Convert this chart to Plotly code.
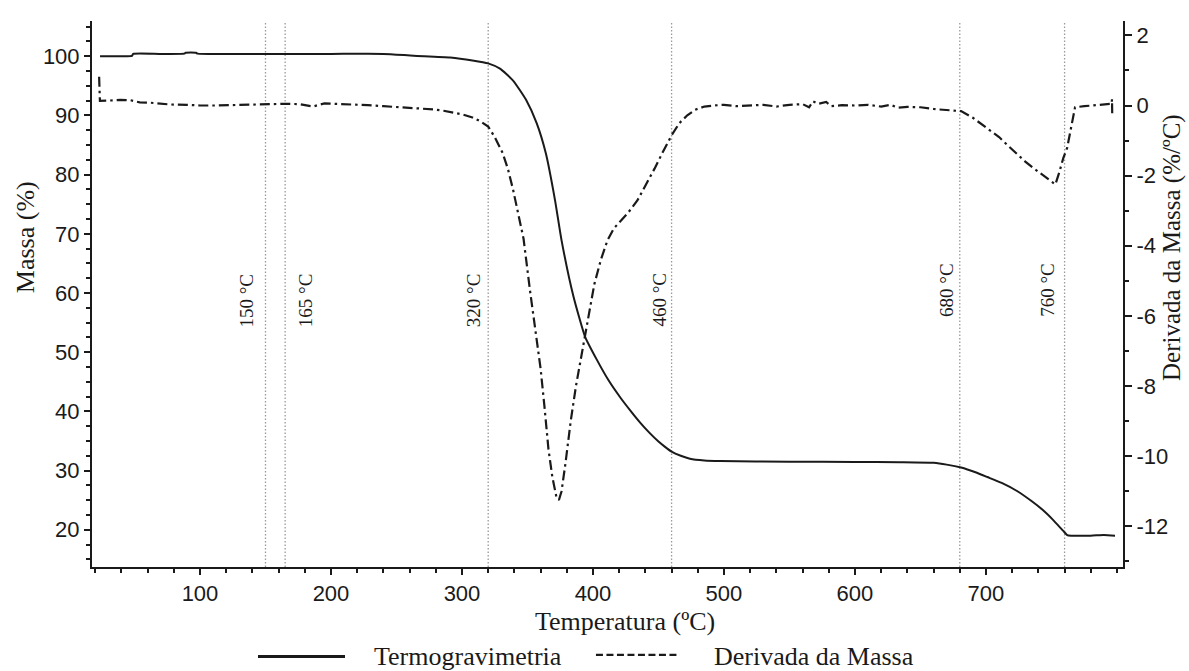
import plotly.graph_objects as go

# Curva termogravimétrica (TG): temperatura (ºC) e massa residual (%)
tg_temp = [23.7, 35, 48, 49, 70, 88, 89, 97, 98, 150, 200, 240, 263, 291, 308,
           320, 329, 339, 349, 357, 364, 371, 376, 385, 394, 403, 412, 421, 429,
           436, 443, 450, 455, 460, 467, 474, 485, 497, 550, 600, 634, 660, 670,
           681, 692, 701, 712, 724, 735, 743, 751, 759, 762, 765, 780, 790, 798.5]
tg_massa = [100.0, 100.0, 100.05, 100.4, 100.4, 100.45, 100.6, 100.6, 100.45,
            100.4, 100.4, 100.4, 100.1, 99.8, 99.3, 98.8, 97.9, 95.9, 92.6, 88.7,
            83.6, 75.7, 68.9, 59.5, 52.6, 48.7, 45.2, 42.3, 40.0, 38.1, 36.4,
            34.9, 34.0, 33.2, 32.5, 32.0, 31.7, 31.6, 31.5, 31.45, 31.4, 31.3,
            31.0, 30.5, 29.7, 28.9, 27.9, 26.5, 24.8, 23.4, 21.7, 19.8, 19.1,
            19.0, 19.0, 19.1, 19.0]

# Derivada da massa (DTG): temperatura (ºC) e %/ºC
dtg_temp = [23.0, 23.1, 23.6, 30, 39, 47, 54, 62, 70, 77, 90, 100, 112, 123, 130,
            146, 153, 165, 176, 186, 195, 205, 214, 228, 240, 250, 260, 270, 278,
            286, 293, 301, 308, 314, 320, 325, 331, 335, 339, 343, 347, 352, 356,
            360, 363, 366, 369, 372, 374, 376, 379, 383, 387, 392, 396, 401, 406,
            411, 416, 421, 427, 434, 440, 447, 453, 460, 466, 472, 478, 485, 492,
            500, 510, 520, 530, 540, 550, 560, 565, 568, 572, 578, 582, 590, 600,
            610, 620, 627, 633, 640, 650, 660, 670, 681, 690, 697, 703, 710, 717,
            724, 730, 736, 742, 748, 753, 756, 759, 762, 765, 768, 775, 782, 790,
            796, 796.2, 796.4]
dtg_valor = [0.82, 0.30, 0.13, 0.14, 0.16, 0.15, 0.09, 0.08, 0.05, 0.03, 0.02,
             0.0, 0.0, 0.01, 0.03, 0.03, 0.04, 0.05, 0.04, -0.03, 0.06, 0.05,
             0.04, 0.01, -0.02, -0.04, -0.06, -0.08, -0.11, -0.15, -0.2, -0.26,
             -0.34, -0.45, -0.6, -0.9, -1.35, -1.8, -2.4, -3.1, -3.8, -5.3, -6.4,
             -7.5, -8.6, -9.8, -10.6, -11.15, -11.25, -11.0, -10.2, -9.0, -8.0,
             -7.0, -6.1, -5.1, -4.4, -3.85, -3.5, -3.3, -3.05, -2.7, -2.3, -1.8,
             -1.35, -0.85, -0.5, -0.28, -0.12, -0.03, 0.0, 0.02, -0.02, 0.01,
             0.02, -0.03, 0.02, 0.04, -0.05, 0.12, 0.05, 0.1, -0.02, 0.01, 0.0,
             0.02, -0.03, 0.02, -0.06, -0.04, -0.05, -0.1, -0.12, -0.16, -0.35,
             -0.55, -0.7, -0.9, -1.15, -1.4, -1.6, -1.78, -1.95, -2.12, -2.25,
             -1.9, -1.5, -1.2, -0.6, -0.05, -0.02, 0.0, 0.03, 0.05, 0.18, -0.3]

# Temperaturas de referência marcadas com linhas verticais
marcos_temp = [150, 165, 320, 460, 680, 760]
marcos_rotulo = ["150 °C", "165 °C", "320 °C", "460 °C", "680 °C", "760 °C"]

# Rótulos dos eixos
x_ticks = [100, 200, 300, 400, 500, 600, 700]
x_ticktext = ["100", "200", "300", "400", "500", "600", "700"]
y_ticks = [20, 30, 40, 50, 60, 70, 80, 90, 100]
y_ticktext = ["20", "30", "40", "50", "60", "70", "80", "90", "100"]
y2_ticks = [-12, -10, -8, -6, -4, -2, 0, 2]
y2_ticktext = ["-12", "-10", "-8", "-6", "-4", "-2", "0", "2"]

SERIF = "Liberation Serif, Times New Roman, serif"
SANS = "Liberation Sans, Arial, sans-serif"
INK = "#1a1a1a"

fig = go.Figure()
fig.add_trace(go.Scatter(
    x=tg_temp, y=tg_massa, mode="lines", name="Termogravimetria",
    line=dict(color=INK, width=2, shape="spline", smoothing=0.5),
    yaxis="y", showlegend=False, hoverinfo="x+y"))
fig.add_trace(go.Scatter(
    x=dtg_temp, y=dtg_valor, mode="lines", name="Derivada da Massa",
    line=dict(color=INK, width=2.2, dash="10px,4px,2.5px,4px"),
    yaxis="y2", showlegend=False, hoverinfo="x+y"))

# deslocamento horizontal (px) de cada rótulo em relação à sua linha
desloc_rotulo = {150: -19, 165: 20, 320: -15, 460: -13, 680: -14, 760: -17}
altura_rotulo = {150: 0.489, 165: 0.489, 320: 0.489, 460: 0.489, 680: 0.507, 760: 0.507}

for t, rot in zip(marcos_temp, marcos_rotulo):
    fig.add_vline(x=t, line=dict(color="#9a9a9a", width=1.3, dash="1.5px,2px"),
                  layer="below")
    fig.add_annotation(x=t, xref="x", y=altura_rotulo[t], yref="paper",
                       text=rot, textangle=-90, showarrow=False,
                       xanchor="center", yanchor="middle",
                       xshift=desloc_rotulo[t],
                       font=dict(family=SERIF, size=19, color=INK))

eixo = dict(showline=True, linecolor=INK, linewidth=2, ticks="outside",
            tickwidth=2, tickcolor=INK, showgrid=False, zeroline=False,
            tickfont=dict(family=SANS, size=22, color=INK), tickmode="array")

fig.update_layout(
    width=1189, height=671,
    margin=dict(l=92, r=66, t=21, b=104),
    paper_bgcolor="white", plot_bgcolor="white",
    xaxis=dict(eixo, range=[17.56, 804.6], tickvals=x_ticks, ticktext=x_ticktext,
               ticklen=6,
               minor=dict(ticks="outside", ticklen=4, tickwidth=1.5,
                          tickcolor=INK, dtick=20, tick0=0)),
    yaxis=dict(eixo, range=[13.7, 105.96], tickvals=y_ticks, ticktext=y_ticktext,
               ticklen=6,
               minor=dict(ticks="outside", ticklen=4, tickwidth=1.5,
                          tickcolor=INK, dtick=2.5, tick0=0)),
    yaxis2=dict(eixo, range=[-13.16, 2.41], tickvals=y2_ticks,
                ticktext=y2_ticktext, overlaying="y", side="right", ticklen=7,
                minor=dict(ticks="outside", ticklen=4, tickwidth=1.5,
                           tickcolor=INK, dtick=1, tick0=0)),
)

# títulos dos eixos
fig.add_annotation(text="Temperatura (ºC)", xref="paper", yref="paper",
                   x=0.517, y=-0.100, showarrow=False,
                   xanchor="center", yanchor="middle",
                   font=dict(family=SERIF, size=26, color=INK))
fig.add_annotation(text="Massa (%)", xref="paper", yref="paper",
                   x=-0.065, y=0.604, textangle=-90, showarrow=False,
                   xanchor="center", yanchor="middle",
                   font=dict(family=SERIF, size=26, color=INK))
fig.add_annotation(text="Derivada da Massa (%/ºC)", xref="paper", yref="paper",
                   x=1.0475, y=0.586, textangle=-90, showarrow=False,
                   xanchor="center", yanchor="middle",
                   font=dict(family=SERIF, size=25, color=INK))

# legenda desenhada abaixo do título do eixo x
fig.add_shape(type="line", xref="paper", yref="paper", x0=0.161, x1=0.2454,
              y0=-0.164, y1=-0.164, line=dict(color=INK, width=3))
fig.add_annotation(text="Termogravimetria", xref="paper", yref="paper",
                   x=0.2716, y=-0.164, xanchor="left", yanchor="middle",
                   showarrow=False, font=dict(family=SERIF, size=26, color=INK))
fig.add_shape(type="line", xref="paper", yref="paper", x0=0.4888, x1=0.5703,
              y0=-0.161, y1=-0.161, line=dict(color=INK, width=2.2, dash="7px,3.5px"))
fig.add_annotation(text="Derivada da Massa", xref="paper", yref="paper",
                   x=0.6014, y=-0.164, xanchor="left", yanchor="middle",
                   showarrow=False, font=dict(family=SERIF, size=26, color=INK))

fig.write_html("out.html")
